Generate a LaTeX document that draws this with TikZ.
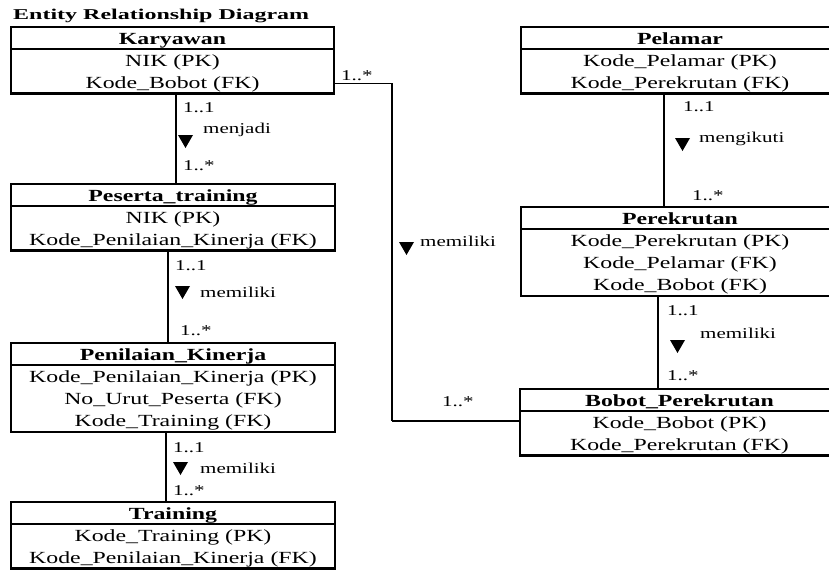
\documentclass[tikz,border=0pt]{standalone}
\usepackage{fontspec}
\setmainfont{Liberation Serif}[FakeStretch=1.4]
\newfontfamily\titlefont{Liberation Serif}[FakeStretch=1.6]

\tikzset{
  entbox/.style={draw, line width=2.4pt, outer sep=0pt, inner sep=0pt},
  rule/.style={line width=2pt},
  enthead/.style={inner sep=0pt, anchor=base, font=\fontsize{17}{20}\selectfont\bfseries},
  entrow/.style={inner sep=0pt, anchor=base, font=\fontsize{17}{20}\selectfont},
  mult/.style={inner sep=0pt, anchor=base west, font=\fontsize{15}{18}\selectfont},
  conn/.style={line width=2pt},
  thinconn/.style={line width=1pt},
}

% entity: name, left, top, width, number of rows, title, rows
\newcommand\entity[7]{%
  \node[entbox, minimum width=#4pt, minimum height=22pt+22.3pt*#5, anchor=north west] (#1) at (#2,#3) {};
  \draw[rule] ([yshift=-22pt]#1.north west) -- ([yshift=-22pt]#1.north east);
  \node[enthead] (#1-title) at ([yshift=-17pt]#1.north) {#6};
  \foreach \r [count=\i] in {#7} {
    \pgfmathsetmacro\dy{39+22.2*(\i-1)}
    \node[entrow] (#1-row\i) at ([yshift=-\dy pt]#1.north) {\r};
  }%
}
% filled relation-direction triangle, top left corner given
\newcommand\reltri[1]{\fill (#1) -- ++(15,0) -- ++(-7.5,13) -- cycle;}

\begin{document}
\begin{tikzpicture}[x=1pt, y=-1pt]
\useasboundingbox (0,0) rectangle (829,570);
\clip (0,0) rectangle (829,570);

\node[inner sep=0pt, anchor=base west, font=\titlefont\fontsize{15}{17}\selectfont\bfseries] (title) at (13,19) {Entity Relationship Diagram};

% left column
\entity{kar}{11}{27}{323}{2}{Karyawan}{{NIK (PK)},{Kode\_Bobot (FK)}}
\entity{pes}{11}{184}{324}{2}{Peserta\_training}{{NIK (PK)},{Kode\_Penilaian\_Kinerja (FK)}}
\entity{pen}{11}{343}{324}{3}{Penilaian\_Kinerja}{{Kode\_Penilaian\_Kinerja (PK)},{No\_Urut\_Peserta (FK)},{Kode\_Training (FK)}}
\entity{tra}{11}{502}{324}{2}{Training}{{Kode\_Training (PK)},{Kode\_Penilaian\_Kinerja (FK)}}

% right column
\entity{pel}{521}{27}{318}{2}{Pelamar}{{Kode\_Pelamar (PK)},{Kode\_Perekrutan (FK)}}
\entity{per}{521}{207}{318}{3}{Perekrutan}{{Kode\_Perekrutan (PK)},{Kode\_Pelamar (FK)},{Kode\_Bobot (FK)}}
\entity{bob}{520}{389}{319}{2}{Bobot\_Perekrutan}{{Kode\_Bobot (PK)},{Kode\_Perekrutan (FK)}}

% connector columns
\coordinate (c1) at (176,0);
\coordinate (c2) at (168,0);
\coordinate (c3) at (166,0);
\coordinate (c4) at (664,0);
\coordinate (c5) at (658,0);

\draw[conn] (c1 |- kar.south) -- (c1 |- pes.north);
\draw[conn] (c2 |- pes.south) -- (c2 |- pen.north);
\draw[conn] (c3 |- pen.south) -- (c3 |- tra.north);
\draw[conn] (c4 |- pel.south) -- (c4 |- per.north);
\draw[conn] (c5 |- per.south) -- (c5 |- bob.north);

% Karyawan -- Bobot_Perekrutan
\coordinate (b1) at (392,83);
\coordinate (b2) at (392,421);
\draw[thinconn] (kar.east |- b1) -- (b1);
\draw[conn] (b1) -- (b2);
\draw[line width=1.3pt] (b2) -- (bob.west |- b2);

% Karyawan -> Peserta_training
\node[mult] (m1a) at (183,112) {1..1};
\reltri{178,135}
\node[mult] (m1r) at (203,133) {menjadi};
\node[mult] (m1b) at (183,170) {1..*};

% Peserta_training -> Penilaian_Kinerja
\node[mult] (m2a) at (175,270) {1..1};
\reltri{175,286}
\node[mult] (m2r) at (200,297) {memiliki};
\node[mult] (m2b) at (180,335) {1..*};

% Penilaian_Kinerja -> Training
\node[mult] (m3a) at (173,452) {1..1};
\reltri{173,462}
\node[mult] (m3r) at (200,473) {memiliki};
\node[mult] (m3b) at (173,495) {1..*};

% Pelamar -> Perekrutan
\node[mult] (m4a) at (683,111) {1..1};
\reltri{675,138}
\node[mult] (m4r) at (699,142) {mengikuti};
\node[mult] (m4b) at (692,200) {1..*};

% Perekrutan -> Bobot_Perekrutan
\node[mult] (m5a) at (667,315) {1..1};
\reltri{670,340}
\node[mult] (m5r) at (700,338) {memiliki};
\node[mult] (m5b) at (667,380) {1..*};

% Karyawan -> Bobot_Perekrutan
\node[mult] (m6a) at (341,80) {1..*};
\reltri{399,242}
\node[mult] (m6r) at (420,246) {memiliki};
\node[mult] (m6b) at (442,406) {1..*};
\end{tikzpicture}
\end{document}
